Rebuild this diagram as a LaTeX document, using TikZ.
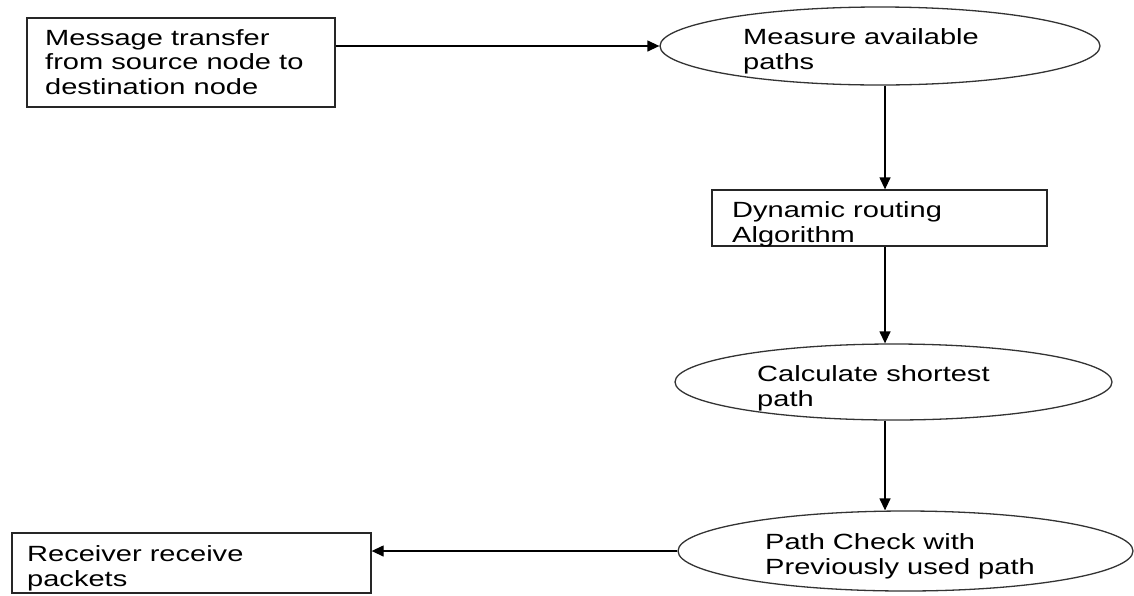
\documentclass[tikz,border=0pt]{standalone}
\usepackage{fontspec}
\usetikzlibrary{shapes.geometric,arrows.meta}
\newfontfamily\flowfont[FakeStretch=1.32]{Liberation Sans}
\begin{document}
\begin{tikzpicture}[x=1pt,y=-1pt,
  boxshape/.style={draw=black!85,line width=1.3pt,rectangle,inner sep=0pt},
  ovalshape/.style={draw=black!80,line width=1.3pt,ellipse,inner sep=0pt},
  caption/.style={font=\flowfont\fontsize{22}{24.5}\selectfont,align=left,anchor=base west,inner sep=0pt},
  flow/.style={line width=1.3pt,-{Triangle[length=12pt,width=11pt]}}]
  \useasboundingbox (0,0) rectangle (1134,595);

  % shapes
  \node[boxshape,minimum width=308pt,minimum height=89pt] (src) at (181,62.5) {};
  \node[ovalshape,minimum width=440pt,minimum height=78pt] (measure) at (880,46) {};
  \node[boxshape,minimum width=335pt,minimum height=56pt] (dyn) at (879.5,218) {};
  \node[ovalshape,minimum width=437pt,minimum height=76pt] (calc) at (893.5,382) {};
  \node[ovalshape,minimum width=455pt,minimum height=80pt] (check) at (905.5,551) {};
  \node[boxshape,minimum width=359pt,minimum height=60pt] (recv) at (191.5,563) {};

  % texts (anchored on the baseline of their last line)
  \node[caption] (srct) at (45,94) {Message transfer\\from source node to\\destination node};
  \node[caption] (measuret) at (743,69) {Measure available\\paths};
  \node[caption] (dynt) at (732,242) {Dynamic routing\\Algorithm};
  \node[caption] (calct) at (757,406) {Calculate shortest\\path};
  \node[caption] (checkt) at (765,574) {Path Check with\\Previously used path};
  \node[caption] (recvt) at (27,586) {Receiver receive\\packets};

  % connectors
  \coordinate (spine) at (885,0);
  \draw[flow] (measure.west -| src.east) -- (measure.west);
  \draw[flow] (measure.south -| spine) -- (dyn.north -| spine);
  \draw[flow] (dyn.south -| spine) -- (calc.north -| spine);
  \draw[flow] (calc.south -| spine) -- (check.north -| spine);
  \draw[flow] (check.west) -- (check.west -| recv.east);
\end{tikzpicture}
\end{document}
